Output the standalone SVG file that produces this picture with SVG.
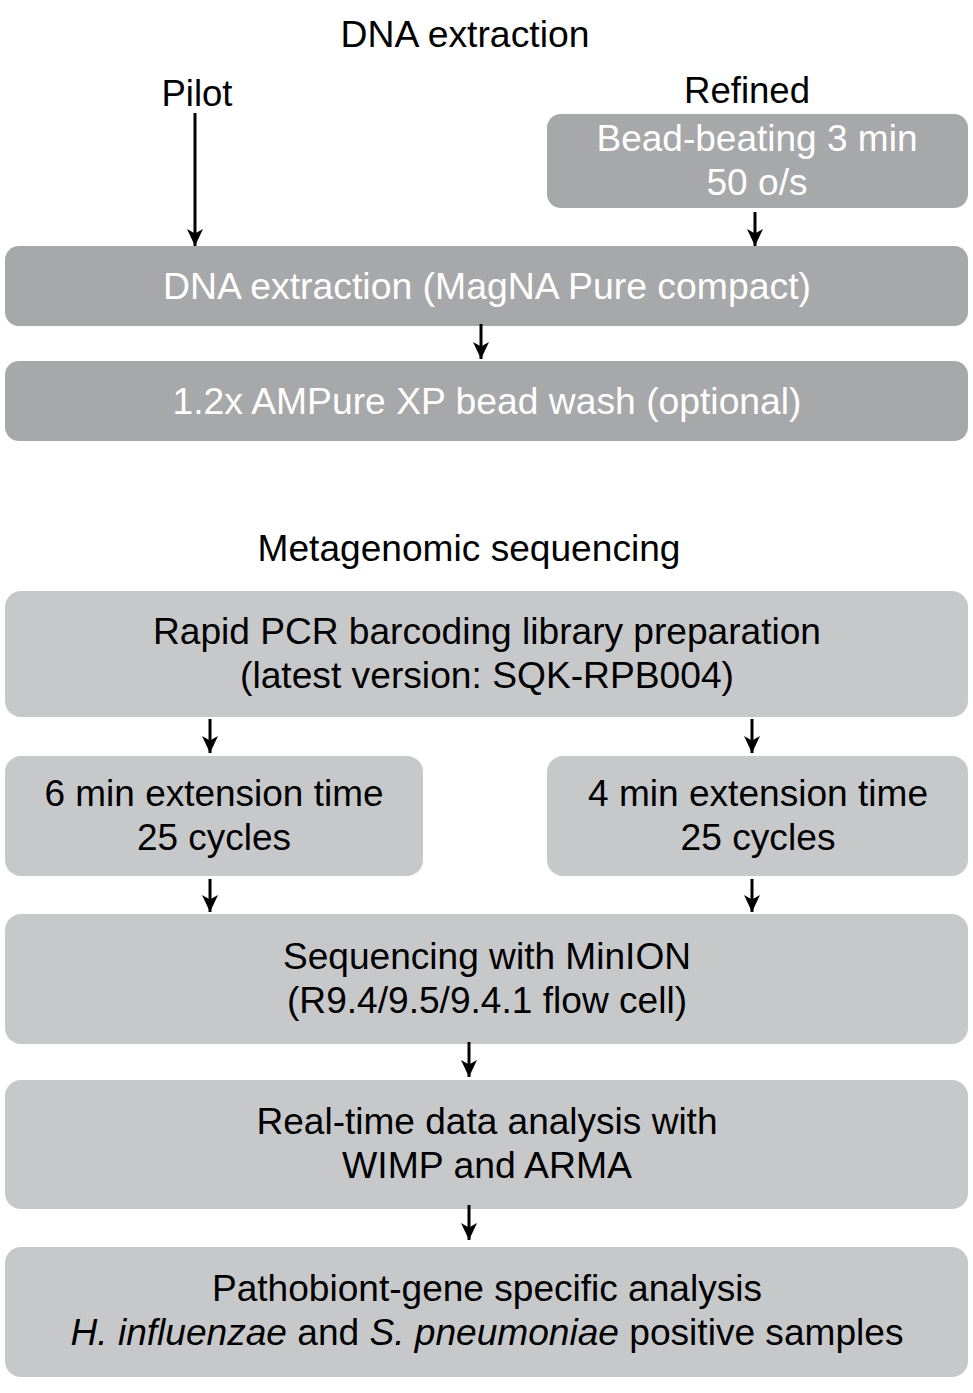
<svg xmlns="http://www.w3.org/2000/svg" width="973" height="1393" viewBox="0 0 973 1393">
<style>
text{font-family:"Liberation Sans",Arial,sans-serif;font-size:37px;text-anchor:middle}
.dark{fill:#a7a8aa}
.light{fill:#c7c8ca}
.wt{fill:#ffffff}
.bk{fill:#000000}
.arr{stroke:#000;stroke-width:3;fill:none;marker-end:url(#ah)}
</style>
<defs>
<marker id="ah" markerWidth="17" markerHeight="17" refX="17" refY="8.5" orient="auto" markerUnits="userSpaceOnUse" viewBox="0 0 17 17">
<path d="M0,0.5 L17,8.5 L0,16.5 L4.5,8.5 Z" fill="#000"/>
</marker>
</defs>
<rect width="973" height="1393" fill="#fff"/>
<g id="title-dna"><text class="bk" x="465" y="47" textLength="249" lengthAdjust="spacingAndGlyphs">DNA extraction</text></g>
<g id="label-pilot"><text class="bk" x="197" y="106" textLength="71" lengthAdjust="spacingAndGlyphs">Pilot</text></g>
<g id="label-refined"><text class="bk" x="747" y="103" textLength="126" lengthAdjust="spacingAndGlyphs">Refined</text></g>
<g id="bead"><rect class="dark" x="547" y="114" width="421" height="94" rx="14"/>
<text class="wt" x="757" y="151" textLength="321" lengthAdjust="spacingAndGlyphs">Bead-beating 3 min</text>
<text class="wt" x="757" y="195" textLength="101" lengthAdjust="spacingAndGlyphs">50 o/s</text></g>
<g id="extract"><rect class="dark" x="5" y="246" width="963" height="80" rx="14"/>
<text class="wt" x="487" y="299" textLength="648" lengthAdjust="spacingAndGlyphs">DNA extraction (MagNA Pure compact)</text></g>
<g id="ampure"><rect class="dark" x="5" y="361" width="963" height="80" rx="14"/>
<text class="wt" x="487" y="414" textLength="629" lengthAdjust="spacingAndGlyphs">1.2x AMPure XP bead wash (optional)</text></g>
<g id="title-meta"><text class="bk" x="469" y="561" textLength="423" lengthAdjust="spacingAndGlyphs">Metagenomic sequencing</text></g>
<g id="rapid"><rect class="light" x="5" y="591" width="963" height="126" rx="16"/>
<text class="bk" x="487" y="644" textLength="668" lengthAdjust="spacingAndGlyphs">Rapid PCR barcoding library preparation</text>
<text class="bk" x="487" y="688" textLength="494" lengthAdjust="spacingAndGlyphs">(latest version: SQK-RPB004)</text></g>
<g id="six"><rect class="light" x="5" y="756" width="418" height="120" rx="16"/>
<text class="bk" x="214" y="806" textLength="339" lengthAdjust="spacingAndGlyphs">6 min extension time</text>
<text class="bk" x="214" y="850" textLength="154" lengthAdjust="spacingAndGlyphs">25 cycles</text></g>
<g id="four"><rect class="light" x="547" y="756" width="421" height="120" rx="16"/>
<text class="bk" x="758" y="806" textLength="340" lengthAdjust="spacingAndGlyphs">4 min extension time</text>
<text class="bk" x="758" y="850" textLength="155" lengthAdjust="spacingAndGlyphs">25 cycles</text></g>
<g id="seq"><rect class="light" x="5" y="914" width="963" height="130" rx="16"/>
<text class="bk" x="487" y="969" textLength="408" lengthAdjust="spacingAndGlyphs">Sequencing with MinION</text>
<text class="bk" x="487" y="1013" textLength="400" lengthAdjust="spacingAndGlyphs">(R9.4/9.5/9.4.1 flow cell)</text></g>
<g id="realtime"><rect class="light" x="5" y="1080" width="963" height="129" rx="16"/>
<text class="bk" x="487" y="1134" textLength="461" lengthAdjust="spacingAndGlyphs">Real-time data analysis with</text>
<text class="bk" x="487" y="1178" textLength="290" lengthAdjust="spacingAndGlyphs">WIMP and ARMA</text></g>
<g id="patho"><rect class="light" x="5" y="1247" width="963" height="130" rx="16"/>
<text class="bk" x="487" y="1301" textLength="550" lengthAdjust="spacingAndGlyphs">Pathobiont-gene specific analysis</text>
<text class="bk" x="487" y="1345" textLength="833" lengthAdjust="spacingAndGlyphs"><tspan font-style="italic">H. influenzae</tspan> and <tspan font-style="italic">S. pneumoniae</tspan> positive samples</text></g>
<g id="connectors">
<line class="arr" x1="195" y1="113" x2="195" y2="246"/>
<line class="arr" x1="755" y1="212" x2="755" y2="246"/>
<line class="arr" x1="481" y1="324" x2="481" y2="359"/>
<line class="arr" x1="210" y1="719" x2="210" y2="753"/>
<line class="arr" x1="752" y1="719" x2="752" y2="753"/>
<line class="arr" x1="210" y1="879" x2="210" y2="912"/>
<line class="arr" x1="752" y1="879" x2="752" y2="912"/>
<line class="arr" x1="469" y1="1042" x2="469" y2="1077"/>
<line class="arr" x1="469" y1="1205" x2="469" y2="1240"/>
</g>
</svg>
